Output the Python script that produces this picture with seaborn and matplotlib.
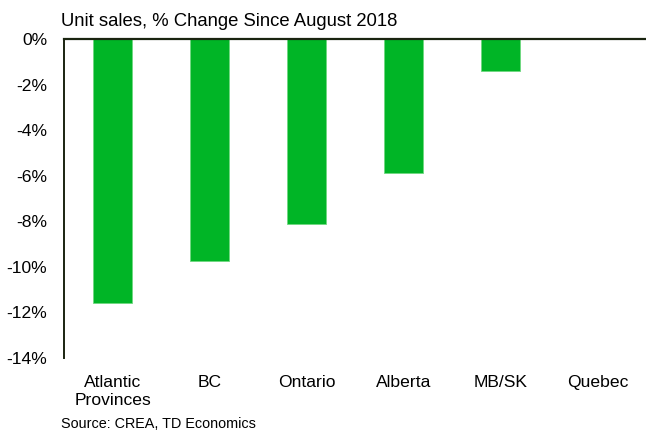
import matplotlib
matplotlib.use("Agg")
import matplotlib.pyplot as plt
import seaborn as sns
import pandas as pd
from matplotlib.ticker import FuncFormatter

categories = ["Atlantic\nProvinces", "BC", "Ontario", "Alberta", "MB/SK", "Quebec"]
values = [-11.6, -9.75, -8.1, -5.9, -1.4, 0.0]
yticks = [0, -2, -4, -6, -8, -10, -12, -14]

sns.set_theme(style="white")
plt.rcParams['font.family'] = ['Liberation Sans', 'DejaVu Sans']

df = pd.DataFrame({"region": categories, "change": values})

fig = plt.figure(figsize=(6.46, 4.32), dpi=100)
ax = fig.add_axes([64/646, 1 - 358/432, 1 - 64/646, (358 - 39)/432])

sns.barplot(data=df, x="region", y="change", color="#00B526", width=0.4,
            saturation=1, ax=ax, edgecolor="#6FD880", linewidth=0.6)

ax.set_xlim(-0.5, 5.5)
ax.set_ylim(-14, 0)
ax.set_yticks(yticks)
ax.yaxis.set_major_formatter(FuncFormatter(lambda v, p: f"{int(round(v))}%"))
ax.set_xlabel("")
ax.set_ylabel("")
ax.tick_params(axis="both", length=0, labelsize=12.6, colors="black")
ax.tick_params(axis="y", pad=12)
ax.tick_params(axis="x", pad=12)
for lbl in ax.get_xticklabels():
    lbl.set_linespacing(1.25)

for s in ["right", "bottom"]:
    ax.spines[s].set_visible(False)
ax.spines["top"].set_color("#1a2410")
ax.spines["top"].set_linewidth(1.6)
ax.spines["left"].set_color("#1a2410")
ax.spines["left"].set_linewidth(1.4)

fig.text(61/646, 1 - 22/432, "Unit sales, % Change Since August 2018",
         fontsize=13.3, va="center", ha="left", color="black")
fig.text(61/646, 1 - 424/432, "Source: CREA, TD Economics",
         fontsize=10.4, va="center", ha="left", color="black")

fig.savefig("out.png", dpi=100)
